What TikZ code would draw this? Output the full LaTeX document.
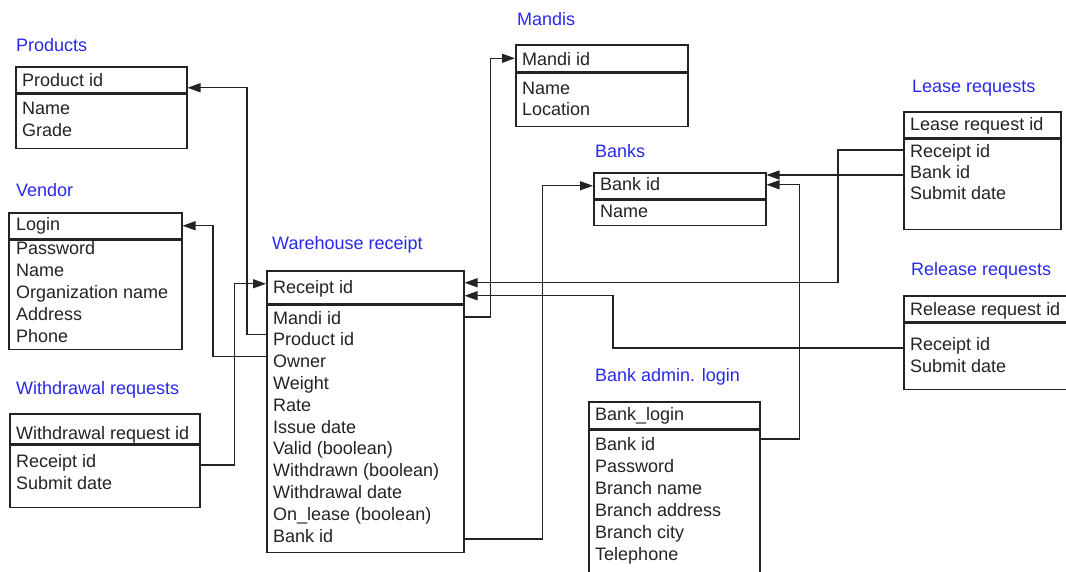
\documentclass[tikz,border=0pt]{standalone}
\usepackage{fontspec}
\setmainfont{Liberation Sans}
\usetikzlibrary{arrows.meta}
\definecolor{tblblue}{RGB}{40,40,235}
\definecolor{ink}{RGB}{35,35,35}
\tikzset{
  hdr/.style={draw=ink, line width=1.5pt, anchor=north west, inner sep=0pt},
  fld/.style={anchor=west, inner sep=0pt, text height=14pt, text depth=0pt, text=ink, font=\fontsize{18}{21}\selectfont},
  ttl/.style={fld, text=tblblue},
  lnk/.style={draw=ink, line width=1.3pt},
  fk/.style={lnk, -{Triangle[length=13pt,width=9pt]}}
}
\begin{document}
\begin{tikzpicture}[x=1pt,y=-1pt]
\useasboundingbox (0,0) rectangle (1066,571);

% Products
\node[ttl] (prod-t) at (16,44) {Products};
\node[hdr, minimum width=171pt, minimum height=26pt] (prodh) at (15,66) {};
\node[hdr, minimum width=171pt, minimum height=54pt] (prodb) at (prodh.south west) {};
\node[fld] (prod-id) at (22,79) {Product id};
\foreach \t/\n [count=\i] in {Name/nam, Grade/grd}
    \node[fld] (prod-\n) at (22,{85+22*\i}) {\t};

% Vendor
\node[ttl] (vnd-t) at (16,189) {Vendor};
\node[hdr, minimum width=173pt, minimum height=26pt] (vndh) at (8,212) {};
\node[hdr, minimum width=173pt, minimum height=109pt] (vndb) at (vndh.south west) {};
\node[fld] (vnd-id) at (16,223) {Login};
\foreach \t/\n [count=\i] in {Password/pwd, Name/nam, Organization name/org, Address/adr, Phone/phn}
    \node[fld] (vnd-\n) at (16,{225+22*\i}) {\t};

% Withdrawal requests
\node[ttl] (wd-t) at (16,387) {Withdrawal requests};
\node[hdr, minimum width=190pt, minimum height=30pt] (wdh) at (9,413) {};
\node[hdr, minimum width=190pt, minimum height=62pt] (wdb) at (wdh.south west) {};
\node[fld] (wd-id) at (16,432) {Withdrawal request id};
\foreach \t/\n [count=\i] in {Receipt id/rid, Submit date/sub}
    \node[fld] (wd-\n) at (16,{438+22*\i}) {\t};

% Warehouse receipt
\node[ttl] (wr-t) at (272,242) {Warehouse receipt};
\node[hdr, minimum width=197pt, minimum height=33pt] (wrh) at (266,270) {};
\node[hdr, minimum width=197pt, minimum height=247pt] (wrb) at (wrh.south west) {};
\node[fld] (wr-id) at (273,286) {Receipt id};
\foreach \t/\n [count=\i] in {Mandi id/mid, Product id/pid, Owner/own, Weight/wgt, Rate/rat,
    Issue date/iss, Valid (boolean)/val, Withdrawn (boolean)/wdn, Withdrawal date/wdd,
    On\_lease (boolean)/onl, Bank id/bid}
    \node[fld] (wr-\n) at (273,{295.2+21.8*\i}) {\t};

% Mandis
\node[ttl] (mnd-t) at (517,18) {Mandis};
\node[hdr, minimum width=172pt, minimum height=27pt] (mndh) at (515,44) {};
\node[hdr, minimum width=172pt, minimum height=53pt] (mndb) at (mndh.south west) {};
\node[fld] (mnd-id) at (522,58) {Mandi id};
\foreach \t/\n [count=\i] in {Name/nam, Location/loc}
    \node[fld] (mnd-\n) at (522,{66+21*\i}) {\t};

% Banks
\node[ttl] (bk-t) at (595,150) {Banks};
\node[hdr, minimum width=172pt, minimum height=26pt] (bkh) at (593,172) {};
\node[hdr, minimum width=172pt, minimum height=25pt] (bkb) at (bkh.south west) {};
\node[fld] (bk-id) at (600,183) {Bank id};
\node[fld] (bk-nam) at (600,210) {Name};

% Lease requests
\node[ttl] (ls-t) at (912,85) {Lease requests};
\node[hdr, minimum width=157pt, minimum height=26pt] (lsh) at (903,111) {};
\node[hdr, minimum width=157pt, minimum height=90pt] (lsb) at (lsh.south west) {};
\node[fld] (ls-id) at (910,123) {Lease request id};
\foreach \t/\n [count=\i] in {Receipt id/rid, Bank id/bid, Submit date/sub}
    \node[fld] (ls-\n) at (910,{129+21*\i}) {\t};

% Release requests
\node[ttl] (rl-t) at (911,268) {Release requests};
\node[hdr, minimum width=170pt, minimum height=26pt] (rlh) at (903,295) {};
\node[hdr, minimum width=170pt, minimum height=66pt] (rlb) at (rlh.south west) {};
\node[fld] (rl-id) at (910,308) {Release request id};
\foreach \t/\n [count=\i] in {Receipt id/rid, Submit date/sub}
    \node[fld] (rl-\n) at (910,{321+22*\i}) {\t};

% Bank admin. login
\node[ttl] (ba-t) at (595,374) {Bank admin. login};
\node[hdr, minimum width=171pt, minimum height=27pt] (bah) at (588,401) {};
\node[hdr, minimum width=171pt, minimum height=160pt] (bab) at (bah.south west) {};
\node[fld] (ba-id) at (595,413) {Bank\_login};
\foreach \t/\n [count=\i] in {Bank id/bid, Password/pwd, Branch name/brn, Branch address/bra,
    Branch city/brc, Telephone/tel}
    \node[fld] (ba-\n) at (595,{421+22*\i}) {\t};

% foreign keys
\draw[fk] ([yshift=4pt]wr-pid -| wrb.west) -- ++(-19,0) |- ([yshift=-8pt]prodh.east);
\draw[fk] ([yshift=4pt]wr-own -| wrb.west) -- ++(-53,0) |- (vndh.east);
\draw[fk] ([yshift=-5pt]wd-rid -| wdb.east) -- ++(34,0) |- ([yshift=3.5pt]wrh.west);
\draw[fk] (wr-mid -| wrb.east) -- ++(26,0) |- (mndh.west);
\draw[fk] ([yshift=-4pt]wr-bid -| wrb.east) -- ++(78,0) |- (bkh.west);
\draw[fk] (ls-rid -| lsb.west) -- ++(-65,0) |- ([yshift=4.5pt]wrh.east);
\draw[fk] ([yshift=-4pt]ls-bid -| lsb.west) -- ([yshift=-4pt]ls-bid -| bkh.east);
\draw[fk] ([yshift=-5pt]rl-rid -| rlb.west) -- ++(-290,0) |- ([yshift=-8.5pt]wrh.east);
\draw[fk] ([yshift=4pt]ba-bid -| bab.east) -- ++(39,0) |- ([yshift=1pt]bkh.east);
\end{tikzpicture}
\end{document}
